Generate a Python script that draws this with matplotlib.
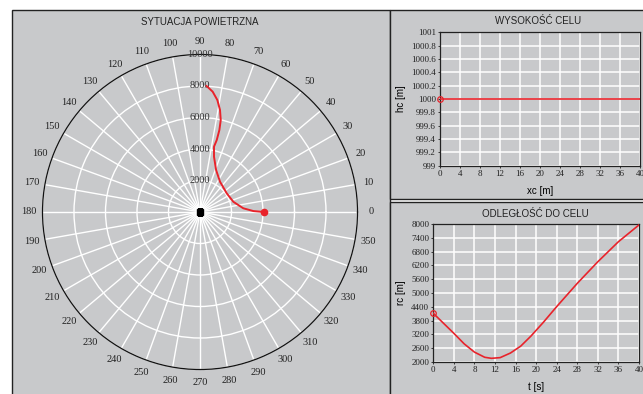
import matplotlib.pyplot as plt
import numpy as np
from matplotlib.patches import Rectangle
from matplotlib.ticker import FormatStrFormatter

# ---- data ----
# target track in polar view (bearing in degrees, range in metres)
track_deg = [0, 1, 4.9, 17, 35, 56.6, 69, 75.8, 77.9, 76.9, 76.7, 77.3, 78.9, 81.2, 84, 87]
track_r = [4050, 3390, 2760, 2215, 2070, 2306, 2853, 3623, 4242, 4693, 5349, 5987, 6599, 7196, 7683, 8010]
range_rings = [2000, 4000, 6000, 8000, 10000]
bearings = list(range(0, 360, 10))

# target height vs xc
hc_x = [0, 40]
hc = [1000, 1000]
hc_ticks = [999, 999.2, 999.4, 999.6, 999.8, 1000, 1000.2, 1000.4, 1000.6, 1000.8, 1001]

# distance to target vs time
t = [0, 2, 4, 6, 8, 10, 11.3, 13, 15, 17, 19, 21.4, 24, 28, 32, 36, 40]
rc = [4116, 3681, 3246, 2790, 2430, 2205, 2160, 2190, 2390, 2690, 3130, 3725, 4410, 5420, 6360, 7230, 7960]
rc_ticks = [2000, 2600, 3200, 3800, 4400, 5000, 5600, 6200, 6800, 7400, 8000]
t_ticks = list(range(0, 41, 4))

W, H = 643, 394
GRAY = '#c8c9cb'
RED = '#e8232b'
SERIF = 'Liberation Serif'
SANS = 'Liberation Sans'

fig = plt.figure(figsize=(W / 100, H / 100), dpi=100)
fig.patch.set_facecolor('white')


def px_rect(x0, y0, x1, y1, **kw):
    # rectangle given in pixel coords (y from top)
    fig.patches.append(Rectangle((x0 / W, 1 - y1 / H), (x1 - x0) / W, (y1 - y0) / H,
                                 transform=fig.transFigure, zorder=-10, **kw))


def px_axes(x0, y0, x1, y1, **kw):
    return fig.add_axes([x0 / W, 1 - y1 / H, (x1 - x0) / W, (y1 - y0) / H], **kw)


# panels
px_rect(11.5, 10, 389.5, 396, facecolor=GRAY, edgecolor='#222222', lw=1.0)
px_rect(389.5, 10, 645, 199, facecolor=GRAY, edgecolor='#222222', lw=1.0)
px_rect(389.5, 202, 645, 396, facecolor=GRAY, edgecolor='#222222', lw=1.0)

fig.text(200 / W, 1 - 22 / H, 'SYTUACJA POWIETRZNA', ha='center', va='center',
         fontsize=7, family=SANS, color='#222222')
fig.text(538 / W, 1 - 21.5 / H, 'WYSOKOŚĆ CELU', ha='center', va='center',
         fontsize=7, family=SANS, color='#222222')
fig.text(535 / W, 1 - 213.5 / H, 'ODLEGŁOŚĆ DO CELU', ha='center', va='center',
         fontsize=7, family=SANS, color='#222222')

# ---- polar view ----
cx, cy, R = 200, 212, 157.5
ax = px_axes(cx - R, cy - R, cx + R, cy + R, projection='polar')
ax.set_facecolor('none')
ax.set_ylim(0, 10000)
ax.set_xticks(np.radians(bearings))
ax.set_xticklabels([])
ax.set_yticks(range_rings)
ax.set_yticklabels([])
ax.grid(True, color='white', lw=1.0)
ax.spines['polar'].set_color('#111111')
ax.spines['polar'].set_linewidth(0.9)
ax.tick_params(length=0)
for b in bearings:
    ax.text(np.radians(b), 10850, str(b), ha='center', va='center', fontsize=7.5,
            family=SERIF, color='#222222', clip_on=False)
for r in range_rings:
    ax.text(np.radians(90), r, str(r), ha='center', va='center', fontsize=7.5,
            family=SERIF, color='#333333', zorder=5)
ax.plot(np.radians(track_deg), track_r, color=RED, lw=1.4, zorder=6)
ax.plot(np.radians(track_deg[0]), track_r[0], 'o', color=RED, ms=4.5, zorder=7)
ax.plot(0, 0, 's', color='black', ms=4, zorder=7)

# ---- height plot ----
ax1 = px_axes(440, 32.3, 640, 165.7)
ax1.set_facecolor(GRAY)
ax1.plot(hc_x, hc, color=RED, lw=1.2, zorder=3)
ax1.plot(hc_x[0], hc[0], 'o', mfc='none', mec=RED, ms=4, mew=0.9, zorder=4, clip_on=False)
ax1.set_xlim(0, 40)
ax1.set_ylim(999, 1001)
ax1.set_xticks(t_ticks)
ax1.set_yticks(hc_ticks)
ax1.yaxis.set_major_formatter(FormatStrFormatter('%g'))
ax1.grid(True, color='white', lw=1.1)
ax1.set_axisbelow(True)
ax1.set_xlabel('xc [m]', fontsize=7, family=SANS, labelpad=6)
ax1.set_ylabel('hc [m]', fontsize=7, family=SANS, labelpad=4)

# ---- distance plot ----
ax2 = px_axes(433.3, 224, 639, 362)
ax2.set_facecolor(GRAY)
ax2.plot(t, rc, color=RED, lw=1.2, zorder=3)
ax2.plot(t[0], rc[0], 'o', mfc='none', mec=RED, ms=4, mew=0.9, zorder=4, clip_on=False)
ax2.set_xlim(0, 40)
ax2.set_ylim(2000, 8000)
ax2.set_xticks(t_ticks)
ax2.set_yticks(rc_ticks)
ax2.grid(True, color='white', lw=1.1)
ax2.set_axisbelow(True)
ax2.set_xlabel('t [s]', fontsize=7, family=SANS, labelpad=6)
ax2.set_ylabel('rc [m]', fontsize=7, family=SANS, labelpad=4)

for a in (ax1, ax2):
    for s in a.spines.values():
        s.set_color('#222222')
        s.set_linewidth(0.9)
    a.tick_params(length=1.5, width=0.6, pad=1.5, labelsize=6.5, colors='#222222')
    for lab in a.get_xticklabels() + a.get_yticklabels():
        lab.set_family(SERIF)

fig.savefig('out.png', dpi=100)
